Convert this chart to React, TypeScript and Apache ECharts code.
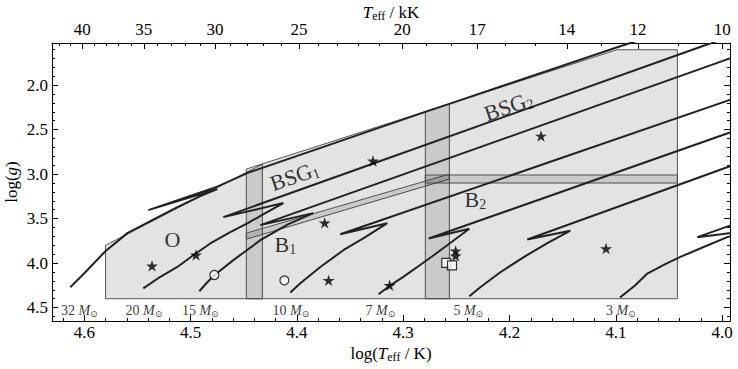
import React, { useEffect, useRef } from "react";
import * as echarts from "echarts";

// ---------- axis ranges ----------
const X_MIN = 3.9926;
const X_MAX = 4.6304;
const Y_MIN = 1.527;
const Y_MAX = 4.65;

// ---------- tick values ----------
const bottomMajor = [4.0, 4.1, 4.2, 4.3, 4.4, 4.5, 4.6];
const bottomMinor = [
  4.02, 4.04, 4.06, 4.08, 4.12, 4.14, 4.16, 4.18, 4.22, 4.24, 4.26, 4.28,
  4.32, 4.34, 4.36, 4.38, 4.42, 4.44, 4.46, 4.48, 4.52, 4.54, 4.56, 4.58, 4.62,
];
const topMajorK = [40, 35, 30, 25, 20, 17, 14, 12, 10];
const topMinorK = [
  42, 41, 39, 38, 37, 36, 34, 33, 32, 31, 29, 28, 27, 26, 24, 23, 22, 21, 19,
  18, 16, 15, 13, 11,
];
const yMajor = [2.0, 2.5, 3.0, 3.5, 4.0, 4.5];
const yMinor = [
  1.6, 1.7, 1.8, 1.9, 2.1, 2.2, 2.3, 2.4, 2.6, 2.7, 2.8, 2.9, 3.1, 3.2, 3.3,
  3.4, 3.6, 3.7, 3.8, 3.9, 4.1, 4.2, 4.3, 4.4, 4.6,
];

// ---------- regions [logTeff, logg] ----------
const regionO = [[4.58, 4.4], [4.58, 3.8], [4.4325, 2.888], [4.4325, 4.4]];
const regionBSG1 = [[4.4476, 2.943], [4.2566, 2.21], [4.2566, 3.055], [4.4476, 3.731]];
const regionB1 = [[4.4476, 3.663], [4.2566, 3.0], [4.2566, 4.4], [4.4476, 4.4]];
const regionBSG2 = [[4.2792, 2.297], [4.0989, 1.6025], [4.0421, 1.6025], [4.0421, 3.1], [4.2792, 3.1]];
const regionB2 = [[4.2792, 3.01], [4.0421, 3.01], [4.0421, 4.4], [4.2792, 4.4]];
const regions = [regionO, regionBSG1, regionB1, regionBSG2, regionB2];

// ---------- evolutionary tracks [logTeff, logg] ----------
const track32 = [
  [4.6132, 4.271], [4.5991, 4.102], [4.5802, 3.866], [4.5595, 3.663], [4.5379, 3.528],
  [4.5125, 3.371], [4.4909, 3.247], [4.4749, 3.168], [4.5398, 3.404], [4.4749, 3.14],
  [4.4467, 2.988], [4.2792, 2.301], [4.2566, 2.211], [4.0986, 1.574], [4.077, 1.49],
];
const track20 = [
  [4.5445, 4.283], [4.5285, 4.153], [4.5125, 4.043], [4.4975, 3.911], [4.4815, 3.779],
  [4.4627, 3.652], [4.4467, 3.554], [4.4297, 3.438], [4.4128, 3.325], [4.4692, 3.483],
  [4.3281, 2.881], [4.0102, 1.527], [3.9923, 1.45],
];
const track15 = [
  [4.4918, 4.316], [4.4852, 4.226], [4.4777, 4.136], [4.4598, 3.966], [4.4344, 3.742],
  [4.4081, 3.562], [4.3846, 3.438], [4.4344, 3.573], [3.9829, 1.659],
];
const track10 = [
  [4.4062, 4.331], [4.3968, 4.226], [4.378, 4.043], [4.3563, 3.855], [4.3357, 3.708],
  [4.315, 3.551], [4.3592, 3.675], [3.983, 2.126],
];
const track7 = [
  [4.3232, 4.35], [4.3121, 4.249], [4.2999, 4.155], [4.2858, 4.035], [4.2726, 3.922],
  [4.2548, 3.765], [4.2378, 3.613], [4.2761, 3.723], [3.9829, 2.492],
];
const track5 = [
  [4.2378, 4.373], [4.2275, 4.271], [4.2087, 4.102], [4.1851, 3.922], [4.1644, 3.776],
  [4.1428, 3.635], [4.1833, 3.734], [3.9829, 2.869],
];
const track3 = [
  [4.0961, 4.387], [4.0817, 4.249], [4.0704, 4.117], [4.0535, 4.012], [4.0393, 3.93],
  [4.0158, 3.81], [3.9951, 3.708], [3.9782, 3.641], [4.0233, 3.708], [3.9782, 3.517],
];
const tracks = [track32, track20, track15, track10, track7, track5, track3];

// ---------- stars / objects ----------
const stars = [
  [4.5363, 4.031], [4.4949, 3.908], [4.3284, 2.852], [4.3739, 3.547], [4.3702, 4.193],
  [4.3128, 4.249], [4.2507, 3.862], [4.2507, 3.918], [4.1704, 2.572], [4.1092, 3.836],
];
const circles = [[4.4777, 4.133], [4.4118, 4.193]];
const squares = [[4.2595, 3.998], [4.2541, 4.024]];

// ---------- labels ----------
const massNames = ["32", "20", "15", "10", "7", "5", "3"];
const massLabelT = [4.6047, 4.544, 4.4909, 4.4057, 4.3215, 4.2388, 4.0953];
const massLabelG = 4.53;

const regionLabelText = ["{b|O}", "{b|B}{s|1}", "{b|B}{s|2}", "{b|BSG}{s|1}", "{b|BSG}{s|2}"];
const regionLabelPos = [[4.5172, 3.733], [4.4109, 3.793], [4.2322, 3.286], [4.4024, 3.021], [4.2011, 2.239]];
const regionLabelRot = [0, 0, 0, 19, 19];

const FONT = "Liberation Serif";
const STAR =
  "path://M50,0 L61.8,35.4 L98.9,35.4 L68.8,57.3 L80.3,92.7 L50,70.8 L19.7,92.7 L31.2,57.3 L1.1,35.4 L38.2,35.4 Z";

export default function App() {
  const ref = useRef<HTMLDivElement>(null);

  useEffect(() => {
    const chart = echarts.init(ref.current!, null, { renderer: "svg" });
    const lg = (k: number) => Math.log10(k * 1000);
    const lineStyle = { color: "#000", width: 1 };
    const lbl = { fontFamily: FONT, fontSize: 17, color: "#000" };

    const xBase = {
      type: "value",
      min: X_MIN,
      max: X_MAX,
      inverse: true,
      splitLine: { show: false },
    };
    const yBase = {
      type: "value",
      min: Y_MIN,
      max: Y_MAX,
      inverse: true,
      splitLine: { show: false },
    };

    const nameRich = {
      n: { fontFamily: FONT, fontSize: 17, lineHeight: 20, color: "#000" },
      i: { fontFamily: FONT, fontSize: 17, lineHeight: 20, fontStyle: "italic", color: "#000" },
      s: { fontFamily: FONT, fontSize: 12, lineHeight: 10, verticalAlign: "bottom", color: "#000" },
    };
    const yNameRich = {
      n: { fontFamily: FONT, fontSize: 17, lineHeight: 17, color: "#000" },
      i: { fontFamily: FONT, fontSize: 17, lineHeight: 17, fontStyle: "italic", color: "#000" },
    };

    const xAxis = [
      {
        ...xBase,
        position: "bottom",
        axisLine: { show: true, onZero: false, lineStyle },
        axisTick: { customValues: bottomMajor, inside: true, length: 6, lineStyle },
        axisLabel: { customValues: bottomMajor, formatter: (v: number) => v.toFixed(1), margin: 3, ...lbl },
        name: "{n|log(}{i|T}{s|eff}{n| / K)}",
        nameLocation: "middle",
        nameGap: 22,
        nameMoveOverlap: false,
        nameTextStyle: { fontFamily: FONT, rich: nameRich },
      },
      {
        ...xBase,
        position: "bottom",
        axisLine: { show: false, onZero: false },
        axisTick: { customValues: bottomMinor, inside: true, length: 3, lineStyle },
        axisLabel: { show: false },
      },
      {
        ...xBase,
        position: "top",
        axisLine: { show: true, onZero: false, lineStyle },
        axisTick: { customValues: topMajorK.map(lg), inside: true, length: 6, lineStyle },
        axisLabel: {
          customValues: topMajorK.map(lg),
          formatter: (v: number) => String(Math.round(Math.pow(10, v) / 1000)),
          margin: 5,
          ...lbl,
        },
        name: "{i|T}{s|eff}{n| / kK}",
        nameLocation: "middle",
        nameGap: 21,
        nameMoveOverlap: false,
        nameTextStyle: { fontFamily: FONT, rich: nameRich },
      },
      {
        ...xBase,
        position: "top",
        axisLine: { show: false, onZero: false },
        axisTick: { customValues: topMinorK.map(lg), inside: true, length: 3, lineStyle },
        axisLabel: { show: false },
      },
    ];

    const yAxis = [
      {
        ...yBase,
        position: "left",
        axisLine: { show: true, onZero: false, lineStyle },
        axisTick: { customValues: yMajor, inside: true, length: 6, lineStyle },
        axisLabel: { customValues: yMajor, formatter: (v: number) => v.toFixed(1), margin: 4, ...lbl },
        name: "{n|log(}{i|g}{n|)}",
        nameLocation: "middle",
        nameGap: 32,
        nameMoveOverlap: false,
        nameTextStyle: { fontFamily: FONT, rich: yNameRich },
      },
      {
        ...yBase,
        position: "left",
        axisLine: { show: false, onZero: false },
        axisTick: { customValues: yMinor, inside: true, length: 3, lineStyle },
        axisLabel: { show: false },
      },
      {
        ...yBase,
        position: "right",
        axisLine: { show: true, onZero: false, lineStyle },
        axisTick: { customValues: yMajor, inside: true, length: 6, lineStyle },
        axisLabel: { show: false },
      },
      {
        ...yBase,
        position: "right",
        axisLine: { show: false, onZero: false },
        axisTick: { customValues: yMinor, inside: true, length: 3, lineStyle },
        axisLabel: { show: false },
      },
    ];

    const series: any[] = [];

    series.push({
      type: "custom",
      silent: true,
      z: 1,
      data: regions.map((r) => r[0]),
      renderItem: (params: any, api: any) => {
        const poly = regions[params.dataIndex];
        return {
          type: "polygon",
          shape: { points: poly.map((p) => api.coord(p)) },
          style: { fill: "rgba(0,0,0,0.11)", stroke: "#444", lineWidth: 0.9 },
        };
      },
    });

    tracks.forEach((t) => {
      series.push({
        type: "line",
        data: t,
        showSymbol: false,
        symbol: "none",
        silent: true,
        z: 3,
        clip: true,
        lineStyle: { color: "#222", width: 2 },
      });
    });

    series.push({
      type: "scatter",
      data: stars,
      symbol: STAR,
      symbolKeepAspect: true,
      symbolSize: 12,
      z: 5,
      silent: true,
      itemStyle: { color: "#000" },
    });
    series.push({
      type: "scatter",
      data: circles,
      symbol: "circle",
      symbolSize: 9,
      z: 5,
      silent: true,
      itemStyle: { color: "#fff", borderColor: "#000", borderWidth: 1.2 },
    });
    series.push({
      type: "scatter",
      data: squares,
      symbol: "rect",
      symbolSize: 9,
      z: 5,
      silent: true,
      itemStyle: { color: "#fff", borderColor: "#000", borderWidth: 1.2 },
    });

    // mass labels
    series.push({
      type: "scatter",
      symbolSize: 1,
      z: 6,
      silent: true,
      itemStyle: { color: "rgba(0,0,0,0)" },
      data: massNames.map((m, i) => ({
        value: [massLabelT[i], massLabelG],
        label: {
          show: true,
          position: "inside",
          fontFamily: FONT,
          formatter: `{n|${m} }{i|M}{s|⊙}`,
          rich: {
            n: { fontFamily: FONT, fontSize: 14, lineHeight: 16, color: "#000" },
            i: { fontFamily: FONT, fontSize: 14, lineHeight: 16, fontStyle: "italic", color: "#000" },
            s: { fontFamily: "DejaVu Sans", fontSize: 9, lineHeight: 9, verticalAlign: "bottom", color: "#000" },
          },
        },
      })),
    });

    // region labels
    series.push({
      type: "scatter",
      symbolSize: 1,
      z: 6,
      silent: true,
      itemStyle: { color: "rgba(0,0,0,0)" },
      data: regionLabelText.map((t, i) => ({
        value: regionLabelPos[i],
        label: {
          show: true,
          position: "inside",
          rotate: regionLabelRot[i],
          fontFamily: FONT,
          formatter: t,
          rich: {
            b: { fontFamily: FONT, fontSize: 22, lineHeight: 24, color: "#000" },
            s: { fontFamily: FONT, fontSize: 14, lineHeight: 12, verticalAlign: "bottom", color: "#000" },
          },
        },
      })),
    });

    chart.setOption({
      animation: false,
      backgroundColor: "#fff",
      textStyle: { fontFamily: FONT },
      grid: { left: 52, right: 8, top: 43, bottom: 48, containLabel: false, outerBoundsMode: "none" },
      xAxis,
      yAxis,
      series,
    });

    return () => chart.dispose();
  }, []);

  return (
    <div
      ref={ref}
      style={{ position: "absolute", left: 0, top: 0, width: 738, height: 369 }}
    />
  );
}
